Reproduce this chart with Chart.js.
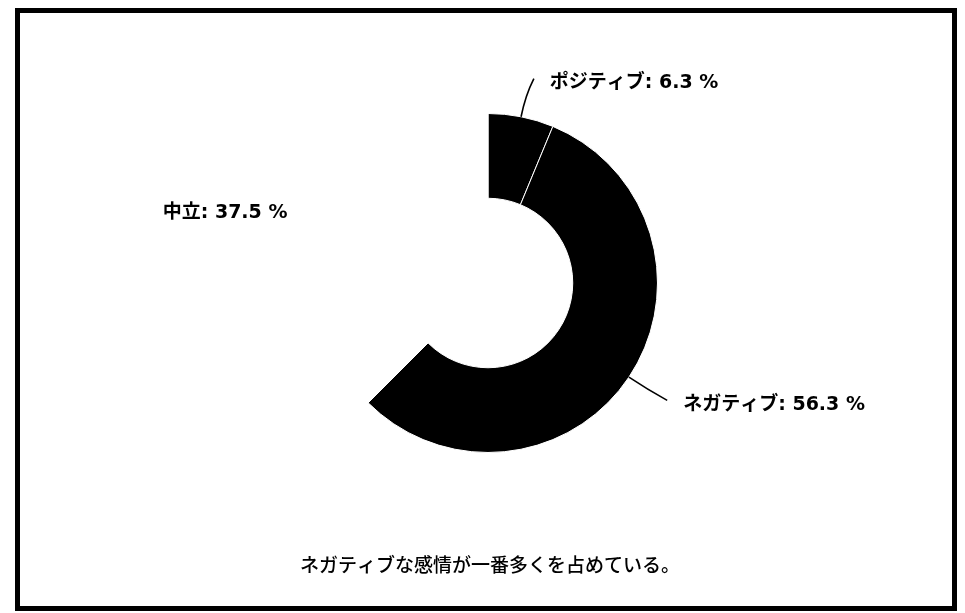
<!DOCTYPE html>
<html lang="ja">
<head>
<meta charset="utf-8">
<script src="https://cdn.jsdelivr.net/npm/chart.js@4.4.1/dist/chart.umd.min.js"></script>
<style>
    body { margin: 0; background: #fff; }
    #wrap { position: relative; width: 965px; height: 613px; }
    #frame { position: absolute; left: 15px; top: 8px; width: 942px; height: 603px; border: 5px solid #000; box-sizing: border-box; }
    canvas { position: absolute; left: 0; top: 0; }
</style>
</head>
<body>
<div id="wrap">
    <div id="frame"></div>
    <canvas id="sentimentChart" width="965" height="613"></canvas>
</div>
<script>
// Chart data
const sentimentLabels = ['ポジティブ', 'ネガティブ', '中立'];
const sentimentCounts = [1, 9, 6];
const sliceColors = ['#000000', '#000000', '#ffffff'];
const captionText = 'ネガティブな感情が一番多くを占めている。';

const total = sentimentCounts.reduce((a, b) => a + b, 0);

// Draws leader lines, percentage labels and the caption
const labelPlugin = {
    id: 'sliceLabels',
    afterDatasetsDraw(chart) {
        const ctx = chart.ctx;
        const meta = chart.getDatasetMeta(0);
        ctx.save();
        meta.data.forEach((arc, i) => {
            const { x, y, startAngle, endAngle, outerRadius } = arc.getProps(['x', 'y', 'startAngle', 'endAngle', 'outerRadius'], true);
            const mid = (startAngle + endAngle) / 2;
            const cos = Math.cos(mid);
            const sin = Math.sin(mid);
            const side = cos >= 0 ? 1 : -1;

            const p0 = { x: x + cos * outerRadius, y: y + sin * outerRadius };
            const c1 = { x: x + cos * (outerRadius + 22), y: y + sin * (outerRadius + 22) };
            const p1 = { x: x + cos * (outerRadius + 40) + side * 5, y: y + sin * (outerRadius + 40) + 1 };

            // Leader line in the slice colour
            ctx.strokeStyle = sliceColors[i];
            ctx.lineWidth = 1.6;
            ctx.beginPath();
            ctx.moveTo(p0.x, p0.y);
            ctx.quadraticCurveTo(c1.x, c1.y, p1.x, p1.y);
            ctx.stroke();

            const pct = (sentimentCounts[i] / total * 100).toFixed(1);
            ctx.fillStyle = '#000';
            ctx.font = 'bold 19px "DejaVu Sans", "Noto Sans CJK JP", sans-serif';
            ctx.textBaseline = 'middle';
            ctx.textAlign = side > 0 ? 'left' : 'right';
            const ty = p1.y + (side > 0 ? 5 : 9);
            ctx.fillText(`${sentimentLabels[i]}: ${pct} %`, p1.x + (side > 0 ? 16 : -2), ty);
        });

        // Caption under the chart
        const cx = meta.data[0].x;
        ctx.font = '500 19px "Noto Sans CJK JP", sans-serif';
        ctx.textAlign = 'center';
        ctx.textBaseline = 'middle';
        ctx.fillStyle = '#000';
        ctx.fillText(captionText, cx + 2, 565);
        ctx.restore();
    }
};

const ctx = document.getElementById('sentimentChart').getContext('2d');
const sentimentChart = new Chart(ctx, {
    type: 'doughnut',
    data: {
        labels: sentimentLabels,
        datasets: [{
            data: sentimentCounts,
            backgroundColor: sliceColors,
            borderColor: '#ffffff',
            borderWidth: 1
        }]
    },
    options: {
        responsive: false,
        animation: false,
        events: [],
        cutout: '50%',
        layout: {
            padding: { left: 318, right: 307, top: 113, bottom: 160 }
        },
        plugins: {
            legend: { display: false },
            tooltip: { enabled: false }
        }
    },
    plugins: [labelPlugin]
});
</script>
</body>
</html>
